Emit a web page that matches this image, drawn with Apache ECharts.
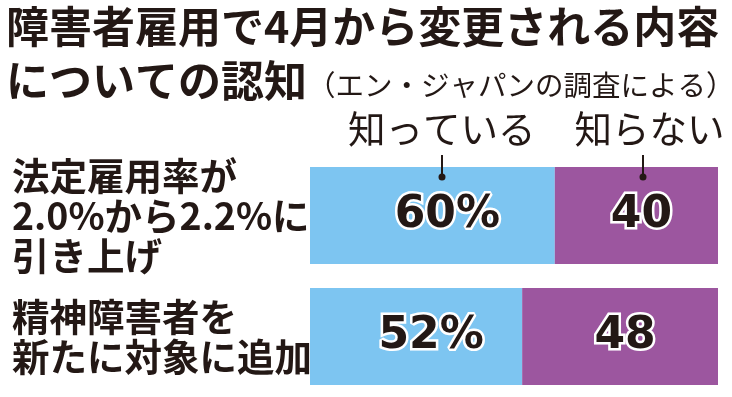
<!DOCTYPE html>
<html>
<head>
<meta charset="utf-8">
<script src="https://cdn.jsdelivr.net/npm/echarts@6/dist/echarts.min.js"></script>
<style>
html,body{margin:0;padding:0;background:#fff;}
#c{width:732px;height:397px;}
</style>
</head>
<body>
<div id="c"></div>
<script>
const titleLine1 = '障害者雇用で4月から変更される内容';
const titleLine2 = 'についての認知';
const sourceNote = '（エン・ジャパンの調査による）';
const categories = ['法定雇用率が\n2.0%から2.2%に\n引き上げ', '精神障害者を\n新たに対象に追加'];
const seriesNames = ['知っている', '知らない'];
const knowValues = [60, 52];
const notKnowValues = [40, 48];

const INK = '#231815';
const CJK = '"Noto Sans CJK JP", "Noto Sans", sans-serif';

const chart = echarts.init(document.getElementById('c'), null, {renderer: 'canvas'});
chart.setOption({
  animation: false,
  backgroundColor: '#ffffff',
  title: {
    left: 6,
    top: 0,
    padding: 0,
    text: '{a|' + titleLine1 + '}\n{a|' + titleLine2 + '}{b|' + sourceNote + '}',
    textStyle: {
      rich: {
        a: {fontFamily: CJK, fontSize: 43, fontWeight: 'bold', color: INK, lineHeight: 54},
        b: {fontFamily: CJK, fontSize: 28.5, fontWeight: 'normal', color: INK, lineHeight: 54, padding: [8, 0, 0, 0]}
      }
    }
  },
  legend: {
    data: seriesNames,
    orient: 'horizontal',
    left: 343,
    top: 110,
    width: 420,
    padding: 0,
    icon: 'rect',
    itemWidth: 0,
    itemHeight: 0,
    itemGap: 34,
    selectedMode: false,
    textStyle: {fontFamily: CJK, fontSize: 37.5, color: INK, fontWeight: 'normal'}
  },
  grid: {left: 310, right: 14, top: 155, height: 245, containLabel: false},
  xAxis: {type: 'value', min: 0, max: 100, show: false},
  yAxis: {
    type: 'category',
    data: categories,
    inverse: true,
    axisLine: {show: false},
    axisTick: {show: false},
    axisLabel: {
      align: 'left',
      margin: 298,
      fontFamily: CJK,
      fontSize: 37.5,
      fontWeight: 'bold',
      color: INK,
      lineHeight: 40
    }
  },
  series: [
    {
      name: seriesNames[0],
      type: 'bar',
      stack: 'total',
      barWidth: 97,
      data: knowValues,
      itemStyle: {color: '#7dc5f1'},
      label: {
        show: true,
        position: 'inside',
        offset: [15, 0],
        formatter: '{c}%',
        fontFamily: '"DejaVu Sans", sans-serif',
        fontWeight: 'bold',
        fontSize: 44,
        color: INK,
        textBorderColor: '#ffffff',
        textBorderWidth: 5
      }
    },
    {
      name: seriesNames[1],
      type: 'bar',
      stack: 'total',
      barWidth: 97,
      data: notKnowValues,
      itemStyle: {color: '#9c569f'},
      label: {
        show: true,
        position: 'inside',
        offset: [5, 0],
        formatter: '{c}',
        fontFamily: '"DejaVu Sans", sans-serif',
        fontWeight: 'bold',
        fontSize: 44,
        color: INK,
        textBorderColor: '#ffffff',
        textBorderWidth: 5
      }
    }
  ],
  graphic: [
    {type: 'line', shape: {x1: 442, y1: 155, x2: 442, y2: 177}, style: {stroke: INK, lineWidth: 2}, z: 10},
    {type: 'circle', shape: {cx: 442, cy: 177, r: 3.5}, style: {fill: INK}, z: 10},
    {type: 'line', shape: {x1: 643, y1: 155, x2: 643, y2: 177}, style: {stroke: INK, lineWidth: 2}, z: 10},
    {type: 'circle', shape: {cx: 643, cy: 177, r: 3.5}, style: {fill: INK}, z: 10}
  ]
});
</script>
</body>
</html>
